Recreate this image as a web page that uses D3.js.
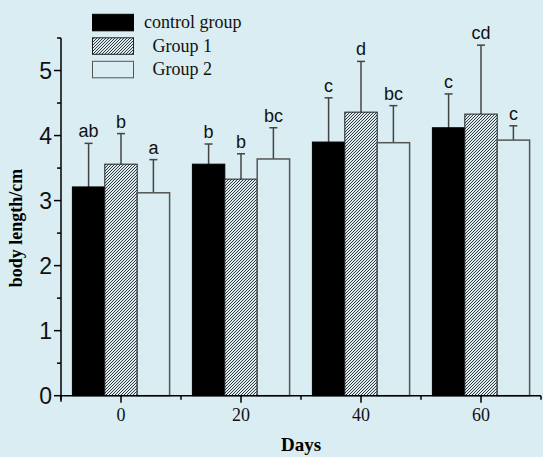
<!DOCTYPE html>
<html>
<head>
<meta charset="utf-8">
<script src="https://cdn.jsdelivr.net/npm/d3@7"></script>
<style>
  html, body { margin: 0; padding: 0; background: #d9edf2; }
  svg { display: block; }
</style>
</head>
<body>
<div id="chart"></div>
<script>
// data
const days = [0, 20, 40, 60];
const groupNames = ["control group", "Group 1", "Group 2"];
const controlMean = [3.21, 3.56, 3.90, 4.12];
const group1Mean = [3.56, 3.33, 4.36, 4.33];
const group2Mean = [3.12, 3.64, 3.89, 3.93];
const controlSD = [0.67, 0.31, 0.68, 0.52];
const group1SD = [0.47, 0.39, 0.78, 1.06];
const group2SD = [0.51, 0.48, 0.57, 0.22];
const controlLetters = ["ab", "b", "c", "c"];
const group1Letters = ["b", "b", "d", "cd"];
const group2Letters = ["a", "bc", "bc", "c"];
const yTicks = [0, 1, 2, 3, 4, 5];
const xTicks = [0, 20, 40, 60];

const W = 543, H = 457;
const bg = "#d9edf2";

const svg = d3.select("#chart").append("svg")
  .attr("width", W).attr("height", H);

svg.append("rect").attr("width", W).attr("height", H).attr("fill", bg);

// hatch for Group 1
const defs = svg.append("defs");
const pat = defs.append("pattern")
  .attr("id", "hatch")
  .attr("patternUnits", "userSpaceOnUse")
  .attr("width", 3).attr("height", 3);
pat.append("rect").attr("width", 3).attr("height", 3).attr("fill", bg);
pat.append("path")
  .attr("d", "M-1,1 l2,-2 M0,3 l3,-3 M2,4 l2,-2")
  .attr("stroke", "#222").attr("stroke-width", 0.9);

const x = d3.scaleLinear().domain([-10, 70]).range([61, 541]);
const y = d3.scaleLinear().domain([0, 5.5]).range([395.7, 38]);

const barW = x(5.4) - x(0);

const series = [
  { name: groupNames[0], mean: controlMean, sd: controlSD, letters: controlLetters, fill: "#000", stroke: "#000", off: -1.5 },
  { name: groupNames[1], mean: group1Mean, sd: group1SD, letters: group1Letters, fill: "url(#hatch)", stroke: "#222", off: -0.5 },
  { name: groupNames[2], mean: group2Mean, sd: group2SD, letters: group2Letters, fill: bg, stroke: "#555", off: 0.5 }
];

// error bars (upward only) drawn first
series.forEach(s => {
  const g = svg.append("g");
  days.forEach((d, i) => {
    const cx = x(d) + (s.off + 0.5) * barW;
    const top = y(s.mean[i] + s.sd[i]);
    g.append("line")
      .attr("x1", cx).attr("x2", cx)
      .attr("y1", y(s.mean[i])).attr("y2", top)
      .attr("stroke", "#444").attr("stroke-width", 1.5);
    g.append("line")
      .attr("x1", cx - 4).attr("x2", cx + 4)
      .attr("y1", top).attr("y2", top)
      .attr("stroke", "#444").attr("stroke-width", 1.5);
    g.append("text")
      .attr("x", cx).attr("y", top - 6)
      .attr("text-anchor", "middle")
      .attr("font-family", "Liberation Sans, Arial, sans-serif")
      .attr("font-size", 18)
      .attr("fill", "#111")
      .text(s.letters[i]);
  });
});

// bars
series.forEach(s => {
  svg.append("g").selectAll("rect")
    .data(days)
    .join("rect")
    .attr("x", d => x(d) + s.off * barW)
    .attr("y", (d, i) => y(s.mean[i]))
    .attr("width", barW)
    .attr("height", (d, i) => y(0) - y(s.mean[i]))
    .attr("fill", s.fill)
    .attr("stroke", s.stroke)
    .attr("stroke-width", s.off === 0.5 ? 1.5 : 1);
});

// y axis
const yAxis = svg.append("g").attr("transform", `translate(${x(-10)},0)`);
yAxis.append("line")
  .attr("x1", 0).attr("x2", 0).attr("y1", y(0) + 6).attr("y2", y(5.5))
  .attr("stroke", "#000").attr("stroke-width", 1.5);
d3.range(0, 5.51, 0.5).forEach(v => {
  const major = Number.isInteger(v);
  yAxis.append("line")
    .attr("x1", major ? -7 : -4).attr("x2", 0)
    .attr("y1", y(v)).attr("y2", y(v))
    .attr("stroke", "#000").attr("stroke-width", 1.5);
});
yAxis.selectAll("text.tick")
  .data(yTicks)
  .join("text")
  .attr("x", -9).attr("y", d => y(d))
  .attr("dy", "0.36em")
  .attr("text-anchor", "end")
  .attr("font-family", "Liberation Sans, Arial, sans-serif")
  .attr("font-size", 23)
  .attr("fill", "#111")
  .text(d => d);

// x axis
const xAxis = svg.append("g").attr("transform", `translate(0,${y(0)})`);
xAxis.append("line")
  .attr("x1", x(-10)).attr("x2", x(70))
  .attr("stroke", "#000").attr("stroke-width", 1.5);
d3.range(-10, 71, 10).forEach(v => {
  const major = xTicks.includes(v);
  xAxis.append("line")
    .attr("x1", x(v)).attr("x2", x(v))
    .attr("y1", 0).attr("y2", major ? 7 : 4)
    .attr("stroke", "#000").attr("stroke-width", 1.5);
});
xAxis.selectAll("text.tick")
  .data(xTicks)
  .join("text")
  .attr("x", d => x(d)).attr("y", 25.5)
  .attr("text-anchor", "middle")
  .attr("font-family", "Liberation Serif, Times New Roman, serif")
  .attr("font-size", 18)
  .attr("fill", "#111")
  .text(d => d);

// axis titles
svg.append("text")
  .attr("x", (x(-10) + x(70)) / 2).attr("y", 451)
  .attr("text-anchor", "middle")
  .attr("font-family", "Liberation Serif, Times New Roman, serif")
  .attr("font-weight", "bold")
  .attr("font-size", 19)
  .text("Days");

svg.append("text")
  .attr("transform", "translate(22,228) rotate(-90)")
  .attr("text-anchor", "middle")
  .attr("font-family", "Liberation Serif, Times New Roman, serif")
  .attr("font-weight", "bold")
  .attr("font-size", 18)
  .text("body length/cm");

// legend
const legend = svg.append("g");
series.forEach((s, i) => {
  const ly = 14.3 + i * 23.5;
  legend.append("rect")
    .attr("x", 92.5).attr("y", ly)
    .attr("width", 41).attr("height", 16.5)
    .attr("fill", s.fill)
    .attr("stroke", s.stroke)
    .attr("stroke-width", 1);
  legend.append("text")
    .attr("x", i === 0 ? 144 : 152.5).attr("y", ly + 14)
    .attr("font-family", "Liberation Serif, Times New Roman, serif")
    .attr("font-size", 18)
    .attr("fill", "#111")
    .text(s.name);
});
</script>
</body>
</html>
